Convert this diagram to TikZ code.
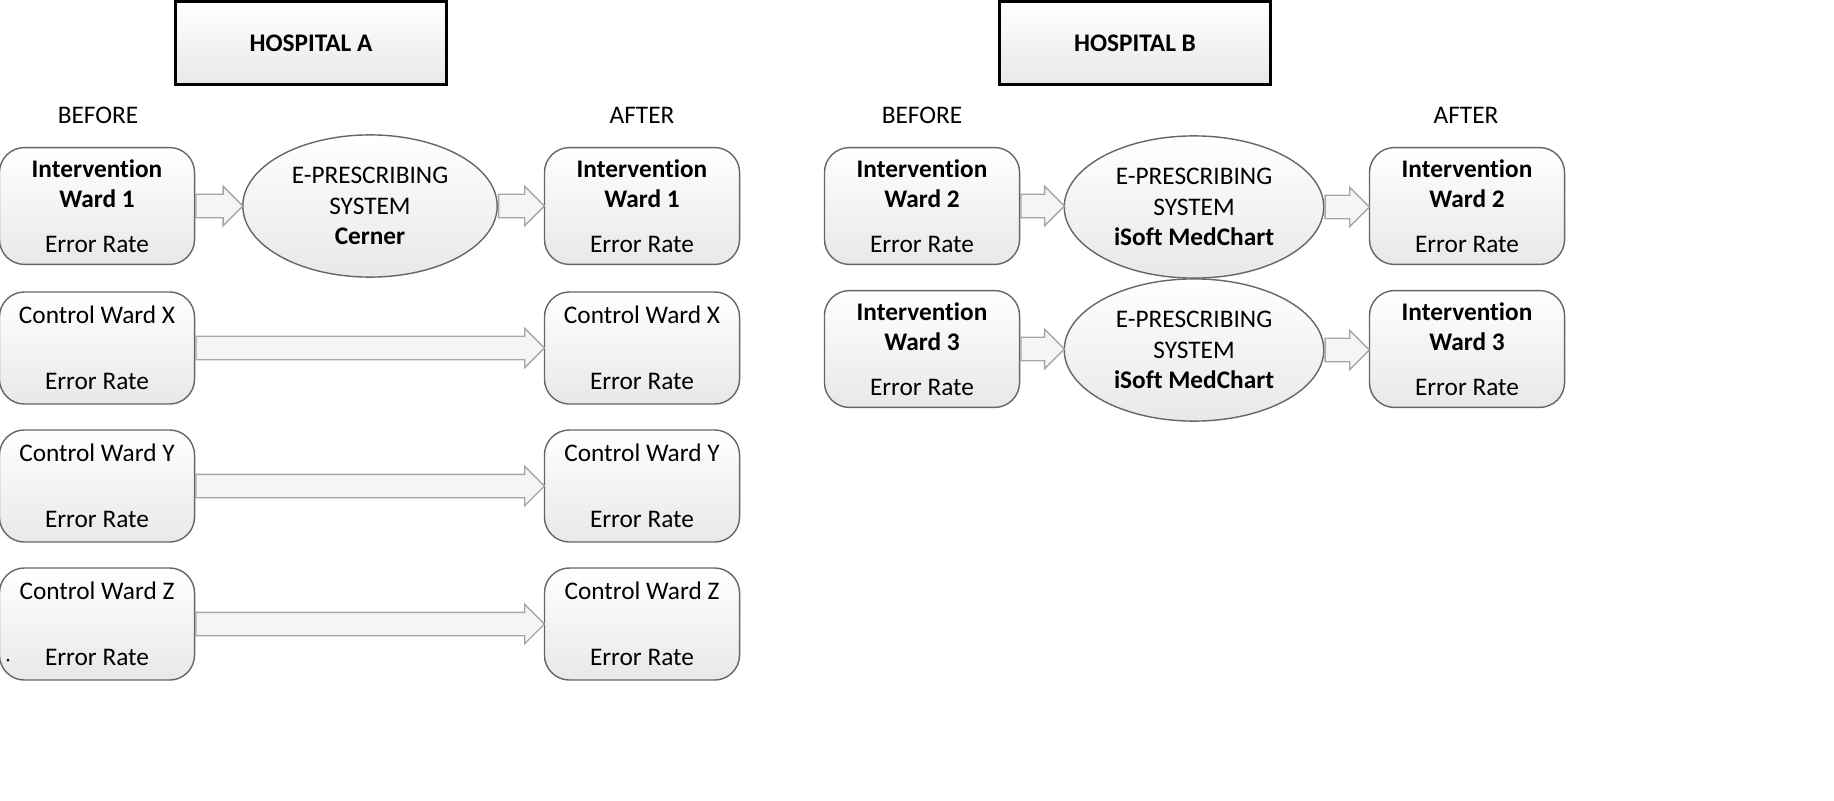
\documentclass[tikz,border=0pt]{standalone}
\usepackage{fontspec}
\setmainfont{Carlito}[Ligatures={NoCommon}]
\usetikzlibrary{shapes.geometric,shapes.arrows,positioning,calc}
\tikzset{
	ward/.style={draw=black!60,rounded corners=0.25cm,minimum width=1.95cm,minimum height=1.12cm,
		top color=white,bottom color=black!9,align=center,font=\fontsize{7.2}{8.6}\selectfont},
	hosp/.style={draw,thick,minimum width=2.71cm,minimum height=0.83cm,
		top color=white,bottom color=black!9,font=\fontsize{7.2}{8.6}\selectfont\bfseries},
	presc/.style={draw=black!60,ellipse,minimum width=2.47cm,minimum height=1.32cm,
		top color=white,bottom color=black!9,align=center,font=\fontsize{7.2}{8.6}\selectfont},
	phase/.style={font=\fontsize{7.2}{8.6}\selectfont},
	fat/.style={single arrow,draw=black!35,fill=black!4,inner sep=0.11cm,
		single arrow head extend=0.08cm,single arrow tip angle=90,anchor=west}
}
\newcommand{\iw}[1]{\textbf{Intervention}\\\textbf{Ward #1}\\[0.15cm]Error Rate}
\newcommand{\cw}[1]{Control Ward #1\\[0.36cm]Error Rate}
\newcommand{\fatarrow}[2]{\path let \p1=(#1.east),\p2=(#2.west) in node[fat,minimum height=\x2-\x1] at (\p1) {};}
\begin{document}
\begin{tikzpicture}[x=0.01cm,y=-0.01cm]
\useasboundingbox (0,0) rectangle (1834,800);

%Titres
\node[hosp] (hA) at (311,43) {HOSPITAL A};
\node[hosp] (hB) at (1135,43) {HOSPITAL B};
\node[phase] (bA) at (98,115) {BEFORE};
\node[phase] (aA) at (642,115) {AFTER};
\node[phase] (bB) at (922,115) {BEFORE};
\node[phase] (aB) at (1466,115) {AFTER};

%Hopital A
\node[ward] (w1b) at (97,206) {\iw{1}};
\node[ward] (w1a) at (642,206) {\iw{1}};
\node[presc] (eA) at (370,206) {E-PRESCRIBING\\SYSTEM\\\textbf{Cerner}};
\node[ward] (xb) at (97,348) {\cw{X}};
\node[ward] (xa) at (642,348) {\cw{X}};
\node[ward] (yb) at (97,486) {\cw{Y}};
\node[ward] (ya) at (642,486) {\cw{Y}};
\node[ward] (zb) at (97,624) {\cw{Z}};
\node[ward] (za) at (642,624) {\cw{Z}};
\fill (8,660) circle (1.5);

%Hopital B
\node[ward] (w2b) at (922,206) {\iw{2}};
\node[ward] (w2a) at (1467,206) {\iw{2}};
\node[presc] (eB) at (1194,207) {E-PRESCRIBING\\SYSTEM\\\textbf{iSoft MedChart}};
\node[ward] (w3b) at (922,349) {\iw{3}};
\node[ward] (w3a) at (1467,349) {\iw{3}};
\node[presc] (eC) at (1194,350) {E-PRESCRIBING\\SYSTEM\\\textbf{iSoft MedChart}};

%Fleches
\fatarrow{w1b}{eA}
\fatarrow{eA}{w1a}
\fatarrow{xb}{xa}
\fatarrow{yb}{ya}
\fatarrow{zb}{za}
\fatarrow{w2b}{eB}
\fatarrow{eB}{w2a}
\fatarrow{w3b}{eC}
\fatarrow{eC}{w3a}
\end{tikzpicture}
\end{document}
